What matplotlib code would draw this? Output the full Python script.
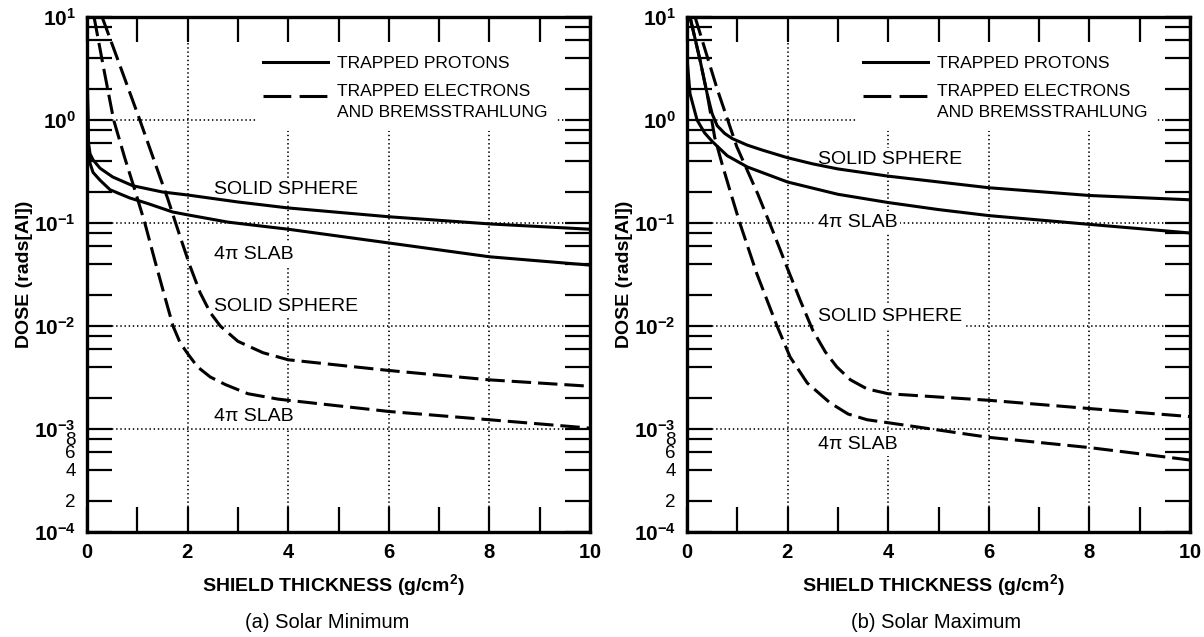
import matplotlib
matplotlib.use('Agg')
import matplotlib.pyplot as plt
from matplotlib.ticker import FixedLocator, FuncFormatter
from matplotlib.patches import Rectangle

plt.rcParams['font.family'] = ['Liberation Sans', 'DejaVu Sans']
plt.rcParams['mathtext.fontset'] = 'custom'
plt.rcParams['mathtext.rm'] = 'Liberation Sans'
plt.rcParams['mathtext.bf'] = 'Liberation Sans:bold'
plt.rcParams['mathtext.it'] = 'Liberation Sans:italic'
plt.rcParams['lines.scale_dashes'] = False

# dose vs. shield thickness, solar minimum
min_sphere_p_x = [0, 0.01, 0.03, 0.06, 0.12, 0.26, 0.51, 0.91, 1.5, 2, 3, 4, 6, 8, 10]
min_sphere_p_y = [10, 2.0, 0.6, 0.47, 0.41, 0.34, 0.28, 0.23, 0.20, 0.187, 0.16, 0.14, 0.115, 0.098, 0.087]

min_slab_p_x = [0, 0.01, 0.03, 0.06, 0.12, 0.26, 0.46, 0.85, 1.2, 1.7, 2, 2.8, 4, 6, 8, 10]
min_slab_p_y = [10, 1.5, 0.5, 0.38, 0.31, 0.26, 0.21, 0.175, 0.155, 0.128, 0.12, 0.102, 0.087, 0.064, 0.047, 0.039]

min_sphere_e_x = [0.3, 0.6, 1.05, 1.38, 1.6, 1.85, 2.05, 2.25, 2.45, 2.65, 3.0, 3.5, 4, 6, 8, 10]
min_sphere_e_y = [10, 4.0, 1.0, 0.35, 0.175, 0.074, 0.038, 0.021, 0.0135, 0.010, 0.0071, 0.0055, 0.0047,
                  0.0037, 0.0030, 0.0026]

min_slab_e_x = [0.14, 0.33, 0.53, 0.75, 0.95, 1.15, 1.35, 1.55, 1.71, 1.85, 2.0, 2.2, 2.45, 2.75, 3.2, 3.8,
                4, 6, 8, 10]
min_slab_e_y = [10, 3.2, 1.0, 0.43, 0.21, 0.10, 0.043, 0.019, 0.010, 0.0069, 0.0054, 0.0040, 0.0032, 0.0027,
                0.0022, 0.00195, 0.0019, 0.00148, 0.00123, 0.00102]

# solar maximum
max_sphere_p_x = [0.06, 0.26, 0.4, 0.5, 0.6, 0.75, 0.9, 1.2, 1.5, 2, 2.5, 3, 4, 6, 8, 10]
max_sphere_p_y = [10, 3.8, 1.8, 1.15, 0.88, 0.74, 0.66, 0.57, 0.51, 0.43, 0.375, 0.335, 0.285, 0.22, 0.185, 0.168]

max_slab_p_x = [0, 0.06, 0.2, 0.35, 0.5, 0.8, 1.2, 2, 3, 4, 5, 6, 8, 10]
max_slab_p_y = [4.0, 1.8, 1.0, 0.75, 0.62, 0.45, 0.35, 0.25, 0.19, 0.158, 0.135, 0.118, 0.097, 0.08]

max_sphere_e_x = [0.16, 0.6, 0.99, 1.41, 1.7, 1.99, 2.25, 2.5, 2.75, 2.98, 3.25, 3.58, 4, 6, 8, 10]
max_sphere_e_y = [10, 2.0, 0.55, 0.19, 0.085, 0.037, 0.0178, 0.0091, 0.0056, 0.004, 0.003, 0.00245, 0.0022,
                  0.0019, 0.00158, 0.00132]

max_slab_e_x = [0.06, 0.26, 0.4, 0.47, 0.55, 0.7, 0.85, 1.05, 1.39, 1.79, 2.05, 2.39, 2.84, 3.2, 3.58, 4, 6, 8, 10]
max_slab_e_y = [10, 3.8, 1.8, 1.15, 0.68, 0.37, 0.21, 0.10, 0.032, 0.010, 0.005, 0.0028, 0.0018, 0.0014, 0.00123,
                0.00115, 0.00083, 0.00066, 0.0005]

# curve labels: text, x, baseline y
min_labels = [('SOLID SPHERE', 2.53, 0.191), ('4\u03c0 SLAB', 2.53, 0.0447),
              ('SOLID SPHERE', 2.53, 0.014), ('4\u03c0 SLAB', 2.53, 0.0012)]
max_labels = [('SOLID SPHERE', 2.6, 0.374), ('4\u03c0 SLAB', 2.6, 0.0914),
              ('SOLID SPHERE', 2.6, 0.0112), ('4\u03c0 SLAB', 2.6, 0.00064)]

decades = [1e-4, 1e-3, 1e-2, 1e-1, 1e0, 1e1]
decade_labels = [r'$\mathbf{10^{-4}}$', r'$\mathbf{10^{-3}}$', r'$\mathbf{10^{-2}}$',
                 r'$\mathbf{10^{-1}}$', r'$\mathbf{10^{0}}$', r'$\mathbf{10^{1}}$']
minor_ticks = [m * 10.0 ** k for k in range(-4, 1) for m in (2, 4, 6, 8)]

DASH = (0, (14, 5))
DOT = (0, (1, 2))
LW = 2.2


def minor_fmt(v, pos):
    # only the lowest decade carries digit labels
    if v < 1e-3:
        return '%d' % round(v / 1e-4)
    return ''


def draw_panel(ax, curves, labels):
    ax.set_yscale('log')
    ax.set_xlim(0, 10)
    ax.set_ylim(1e-4, 1e1)

    # grid
    for gx in [2, 4, 6, 8]:
        ax.axvline(gx, color='k', lw=1.2, ls=DOT, zorder=0.5)
    ax.hlines([1e0, 1e-1, 1e-2, 1e-3], 0.5, 9.5, color='k', lw=1.2, linestyles=[DOT], zorder=0.5)

    # white area behind the key
    ax.add_patch(Rectangle((0.337, 0.778), 0.595, 0.23, transform=ax.transAxes,
                           facecolor='white', edgecolor='none', zorder=0.8))

    for (x, y, style) in curves:
        ax.plot(x, y, color='k', lw=LW, ls=style, zorder=3, solid_capstyle='butt')

    for txt, x, y in labels:
        ax.text(x, y, txt, fontsize=14, ha='left', va='baseline', zorder=1.5,
                bbox=dict(boxstyle='square,pad=0.15', facecolor='white', edgecolor='none'))

    # key
    ax.plot([0.35, 0.479], [0.912, 0.912], transform=ax.transAxes, color='k', lw=LW, zorder=3)
    ax.plot([0.35, 0.479], [0.847, 0.847], transform=ax.transAxes, color='k', lw=LW,
            ls=(0, (20, 6)), zorder=3)
    ax.text(0.497, 0.900, 'TRAPPED PROTONS', transform=ax.transAxes, fontsize=12.6, va='baseline', zorder=2)
    ax.text(0.497, 0.847, 'TRAPPED ELECTRONS', transform=ax.transAxes, fontsize=12.6, va='baseline', zorder=2)
    ax.text(0.497, 0.805, 'AND BREMSSTRAHLUNG', transform=ax.transAxes, fontsize=12.6, va='baseline', zorder=2)

    # ticks
    ax.xaxis.set_major_locator(FixedLocator(list(range(11))))
    ax.xaxis.set_major_formatter(FuncFormatter(
        lambda v, p: (r'$\mathbf{%d}$' % v) if round(v) % 2 == 0 else ''))
    ax.yaxis.set_major_locator(FixedLocator(decades))
    ax.yaxis.set_major_formatter(FuncFormatter(lambda v, p: decade_labels[decades.index(v)]
                                               if v in decades else ''))
    ax.yaxis.set_minor_locator(FixedLocator(minor_ticks))
    ax.yaxis.set_minor_formatter(FuncFormatter(minor_fmt))
    ax.xaxis.set_minor_locator(FixedLocator([]))

    ax.tick_params(axis='both', which='both', direction='in', length=18, width=1.6,
                   top=True, right=True, color='k')
    ax.tick_params(axis='x', which='major', pad=8, labelsize=14.5)
    ax.tick_params(axis='y', which='major', pad=8, labelsize=15)
    ax.tick_params(axis='y', which='minor', pad=8, labelsize=13.5)

    for s in ax.spines.values():
        s.set_linewidth(2.4)

    ax.set_xlabel(r'SHIELD THICKNESS (g/cm$^{\mathbf{2}}$)', fontsize=14, fontweight='bold')
    ax.xaxis.set_label_coords(0.49, -0.078)
    ax.set_ylabel('DOSE (rads[Al])', fontsize=14, fontweight='bold')
    ax.yaxis.set_label_coords(-0.107, 0.5)


fig = plt.figure(figsize=(12.04, 6.37), dpi=100)
ax1 = fig.add_axes([87 / 1204, 1 - 532 / 637, 503 / 1204, 515 / 637])
ax2 = fig.add_axes([687 / 1204, 1 - 532 / 637, 503 / 1204, 515 / 637])

draw_panel(ax1, [(min_sphere_p_x, min_sphere_p_y, '-'), (min_slab_p_x, min_slab_p_y, '-'),
                 (min_sphere_e_x, min_sphere_e_y, DASH), (min_slab_e_x, min_slab_e_y, DASH)], min_labels)
draw_panel(ax2, [(max_sphere_p_x, max_sphere_p_y, '-'), (max_slab_p_x, max_slab_p_y, '-'),
                 (max_sphere_e_x, max_sphere_e_y, DASH), (max_slab_e_x, max_slab_e_y, DASH)], max_labels)

fig.text(327 / 1204, 1 - 622 / 637, '(a) Solar Minimum', ha='center', va='center', fontsize=14.5)
fig.text(936 / 1204, 1 - 622 / 637, '(b) Solar Maximum', ha='center', va='center', fontsize=14.5)

fig.savefig('out.png', dpi=100)
